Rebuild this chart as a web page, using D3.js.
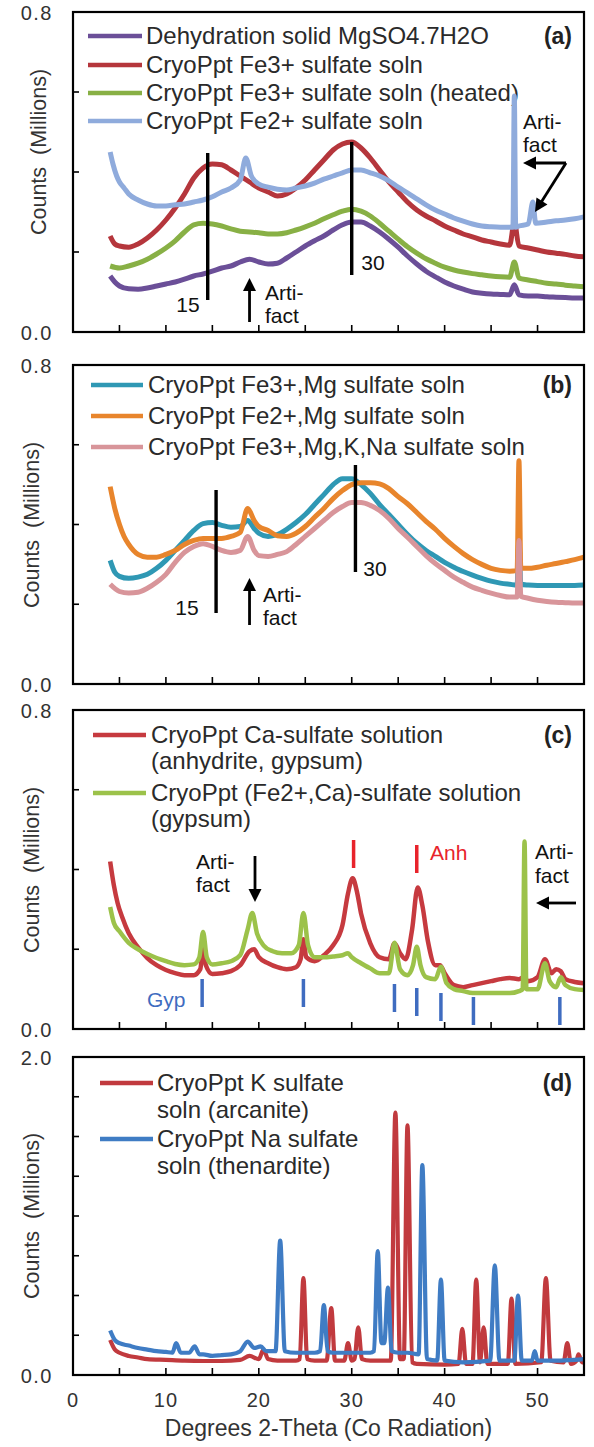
<!DOCTYPE html>
<html>
<head>
<meta charset="utf-8">
<script src="https://cdn.jsdelivr.net/npm/d3@7"></script>
<style>
  body { margin: 0; background: #fff; }
  svg { display: block; }
  text { font-family: "Liberation Sans", Arial, sans-serif; }
</style>
</head>
<body>
<svg id="chart" width="594" height="1447"></svg>
<script>
// ---- data: [degrees 2-theta, counts (millions)] ----

// panel (a)
const aDehydration = [[4,0.14],[4.5,0.125],[5,0.115],[6,0.108],[7,0.107],[8,0.11],[9,0.115],[10,0.12],[11,0.125],[12,0.132],[13,0.14],[14,0.145],[15,0.152],[16,0.16],[17,0.165],[18,0.175],[19,0.182],[20,0.175],[21,0.17],[22,0.172],[23,0.185],[24,0.2],[25,0.215],[26,0.228],[27,0.24],[28,0.255],[29,0.268],[30,0.275],[31,0.275],[32,0.265],[33,0.25],[34,0.232],[35,0.212],[36,0.19],[37,0.17],[38,0.152],[39,0.138],[40,0.125],[41,0.115],[42,0.107],[43,0.1],[44,0.097],[45,0.095],[46,0.094],[47,0.093],[47.5,0.118],[48,0.093],[49,0.09],[50,0.09],[51,0.088],[52,0.087],[53,0.086],[54,0.085],[55,0.085]];
const aFe3 = [[4,0.24],[4.5,0.22],[5,0.215],[6,0.212],[7,0.22],[8,0.235],[9,0.255],[10,0.28],[11,0.31],[12,0.345],[13,0.385],[14,0.41],[15,0.42],[16,0.418],[17,0.405],[18,0.39],[19,0.375],[20,0.36],[21,0.35],[22,0.34],[23,0.345],[24,0.36],[25,0.38],[26,0.405],[27,0.43],[28,0.455],[29,0.47],[30,0.475],[31,0.46],[32,0.435],[33,0.405],[34,0.375],[35,0.35],[36,0.325],[37,0.305],[38,0.29],[39,0.278],[40,0.265],[41,0.255],[42,0.245],[43,0.238],[44,0.23],[45,0.225],[46,0.22],[47,0.217],[47.5,0.275],[48,0.215],[49,0.21],[50,0.205],[51,0.2],[52,0.197],[53,0.194],[54,0.19],[55,0.188]];
const aFe3Heated = [[4,0.165],[5,0.16],[6,0.165],[7,0.172],[8,0.182],[9,0.195],[10,0.21],[11,0.228],[12,0.25],[13,0.268],[14,0.272],[15,0.27],[16,0.265],[17,0.258],[18,0.252],[19,0.25],[20,0.248],[21,0.245],[22,0.245],[23,0.248],[24,0.255],[25,0.263],[26,0.272],[27,0.283],[28,0.293],[29,0.302],[30,0.307],[31,0.302],[32,0.29],[33,0.272],[34,0.252],[35,0.232],[36,0.213],[37,0.197],[38,0.183],[39,0.172],[40,0.162],[41,0.155],[42,0.15],[43,0.146],[44,0.143],[45,0.14],[46,0.138],[47,0.137],[47.5,0.175],[48,0.135],[49,0.13],[50,0.126],[51,0.122],[52,0.12],[53,0.117],[54,0.115],[55,0.113]];
const aFe2 = [[4,0.45],[4.3,0.42],[4.7,0.39],[5,0.375],[5.5,0.36],[6,0.345],[7,0.33],[8,0.32],[9,0.315],[10,0.315],[11,0.318],[12,0.32],[13,0.325],[14,0.33],[15,0.338],[16,0.35],[17,0.36],[18,0.38],[18.6,0.435],[19.2,0.39],[20,0.37],[21,0.362],[22,0.357],[23,0.355],[24,0.36],[25,0.365],[26,0.372],[27,0.382],[28,0.39],[29,0.398],[30,0.405],[31,0.405],[32,0.398],[33,0.39],[34,0.378],[35,0.362],[36,0.348],[37,0.333],[38,0.318],[39,0.305],[40,0.295],[41,0.285],[42,0.277],[43,0.27],[44,0.265],[45,0.263],[46,0.262],[47,0.262],[47.35,0.262],[47.5,0.59],[47.65,0.262],[48,0.265],[49,0.27],[49.5,0.325],[49.8,0.272],[51,0.275],[52,0.278],[53,0.28],[54,0.283],[55,0.288]];

// panel (b)
const bFe3Mg = [[4,0.31],[4.5,0.28],[5,0.27],[6,0.265],[7,0.268],[8,0.275],[9,0.29],[10,0.31],[11,0.335],[12,0.36],[13,0.385],[14,0.402],[15,0.405],[16,0.398],[17,0.393],[18,0.395],[18.8,0.41],[19.5,0.39],[20,0.378],[21,0.37],[22,0.375],[23,0.388],[24,0.405],[25,0.425],[26,0.45],[27,0.475],[28,0.5],[29,0.515],[30,0.515],[31,0.5],[32,0.478],[33,0.45],[34,0.425],[35,0.4],[36,0.375],[37,0.353],[38,0.335],[39,0.32],[40,0.305],[41,0.293],[42,0.282],[43,0.273],[44,0.265],[45,0.258],[46,0.253],[47,0.25],[47.8,0.248],[48,0.37],[48.2,0.25],[49,0.248],[50,0.247],[51,0.247],[52,0.247],[53,0.247],[54,0.247],[55,0.248]];
const bFe2Mg = [[4,0.495],[4.5,0.44],[5,0.4],[5.5,0.37],[6,0.35],[7,0.325],[8,0.318],[9,0.318],[10,0.325],[11,0.335],[12,0.35],[13,0.36],[14,0.365],[15,0.365],[16,0.365],[17,0.37],[18,0.38],[18.8,0.44],[19.5,0.41],[20,0.395],[21,0.385],[22,0.372],[23,0.37],[24,0.378],[25,0.395],[26,0.418],[27,0.44],[28,0.465],[29,0.485],[30,0.5],[31,0.505],[32,0.505],[33,0.502],[34,0.49],[35,0.47],[36,0.452],[37,0.43],[38,0.408],[39,0.388],[40,0.365],[41,0.345],[42,0.327],[43,0.312],[44,0.3],[45,0.29],[46,0.285],[47,0.283],[47.8,0.285],[48,0.56],[48.2,0.29],[49,0.29],[50,0.293],[51,0.298],[52,0.302],[53,0.307],[54,0.312],[55,0.318]];
const bFe3MgKNa = [[4,0.25],[5,0.232],[6,0.228],[7,0.23],[8,0.24],[9,0.255],[10,0.275],[11,0.305],[12,0.33],[13,0.345],[14,0.352],[15,0.345],[16,0.335],[17,0.33],[18,0.335],[18.8,0.37],[19.5,0.335],[20,0.322],[21,0.32],[22,0.325],[23,0.332],[24,0.35],[25,0.37],[26,0.39],[27,0.41],[28,0.43],[29,0.445],[30,0.455],[31,0.455],[32,0.448],[33,0.435],[34,0.415],[35,0.39],[36,0.368],[37,0.345],[38,0.322],[39,0.302],[40,0.285],[41,0.268],[42,0.255],[43,0.243],[44,0.235],[45,0.228],[46,0.222],[47,0.218],[47.8,0.218],[48,0.36],[48.2,0.22],[49,0.215],[50,0.21],[51,0.207],[52,0.205],[53,0.204],[54,0.203],[55,0.203]];

// panel (c)
const cCa = [[4,0.42],[4.4,0.36],[4.8,0.316],[5.3,0.28],[6,0.24],[7,0.205],[8,0.178],[9,0.16],[10,0.148],[11,0.14],[12,0.135],[13,0.135],[13.7,0.15],[14,0.205],[14.3,0.16],[15,0.138],[16,0.14],[17,0.145],[18,0.16],[19,0.195],[19.5,0.2],[20,0.18],[21,0.165],[22,0.155],[23,0.15],[24,0.155],[24.5,0.175],[24.8,0.225],[25.1,0.18],[26,0.17],[27,0.185],[28,0.21],[29,0.26],[29.6,0.34],[30.1,0.378],[30.6,0.34],[31,0.29],[32,0.215],[33,0.18],[34,0.175],[34.6,0.215],[35.2,0.19],[35.8,0.175],[36.5,0.25],[37.1,0.355],[37.6,0.31],[38.2,0.22],[39,0.16],[39.5,0.16],[40,0.14],[41,0.11],[42,0.105],[43,0.11],[44,0.115],[45,0.12],[46,0.125],[47,0.128],[48,0.125],[48.5,0.13],[49,0.12],[50,0.13],[50.8,0.175],[51.5,0.14],[52,0.15],[52.5,0.145],[53,0.125],[54,0.118],[55,0.115]];
const cFe2Ca = [[4,0.306],[4.4,0.266],[5,0.245],[6,0.216],[7,0.2],[8,0.188],[9,0.178],[10,0.17],[11,0.163],[12,0.16],[13,0.162],[13.6,0.18],[14,0.243],[14.4,0.18],[15,0.162],[16,0.165],[17,0.17],[18,0.185],[18.8,0.25],[19.3,0.291],[19.8,0.24],[20.5,0.21],[21.5,0.195],[22.5,0.19],[23.5,0.19],[24.3,0.21],[24.8,0.291],[25.3,0.21],[26,0.18],[27,0.18],[28,0.182],[29,0.185],[29.6,0.19],[30,0.18],[31,0.165],[32,0.152],[33,0.14],[34,0.14],[34.6,0.216],[35.2,0.15],[36,0.135],[36.6,0.16],[37,0.206],[37.4,0.16],[38,0.13],[39,0.125],[39.6,0.156],[40.2,0.115],[41,0.1],[42,0.095],[43,0.09],[44,0.09],[45,0.09],[46,0.09],[47,0.09],[48,0.095],[48.4,0.1],[48.6,0.47],[48.8,0.1],[49.5,0.1],[50,0.1],[50.8,0.165],[51.3,0.12],[52,0.105],[52.5,0.13],[53,0.11],[54,0.1],[55,0.098]];

// panel (d)
const dK = [[4,0.22],[4.5,0.16],[5,0.14],[6,0.12],[7,0.11],[8,0.1],[10,0.095],[12,0.09],[14,0.088],[16,0.088],[18,0.095],[19,0.12],[20,0.1],[20.5,0.16],[21,0.1],[22,0.09],[24,0.09],[24.4,0.1],[24.8,0.61],[25.2,0.1],[26,0.09],[27.3,0.09],[27.8,0.42],[28.2,0.09],[29.2,0.09],[29.6,0.2],[30,0.09],[30.3,0.1],[30.7,0.3],[31.1,0.1],[32,0.09],[34.2,0.09],[34.7,1.65],[35.2,0.1],[35.6,0.1],[36,1.57],[36.5,0.08],[37,0.07],[40,0.065],[41.5,0.07],[41.9,0.29],[42.3,0.07],[43,0.07],[43.4,0.6],[43.8,0.08],[44.2,0.3],[44.6,0.07],[46.8,0.07],[47.2,0.48],[47.6,0.07],[50.4,0.08],[50.9,0.61],[51.4,0.09],[52.8,0.08],[53.2,0.2],[53.6,0.07],[54.2,0.09],[54.4,0.13],[54.8,0.08],[55,0.08]];
const dNa = [[4,0.28],[4.5,0.22],[5,0.2],[6,0.185],[7,0.17],[8,0.16],[9,0.15],[10,0.145],[10.7,0.14],[11.1,0.2],[11.6,0.14],[12.5,0.14],[13.1,0.18],[13.6,0.13],[14,0.13],[15,0.12],[16,0.125],[17,0.13],[18,0.15],[18.8,0.21],[19.5,0.17],[20.2,0.18],[20.8,0.15],[21.8,0.15],[22.3,0.845],[22.8,0.15],[24,0.14],[26,0.14],[26.6,0.15],[27,0.44],[27.4,0.15],[28,0.14],[30,0.14],[32,0.14],[32.4,0.15],[32.8,0.78],[33.2,0.2],[33.5,0.2],[33.9,0.55],[34.3,0.15],[35,0.14],[36,0.14],[37.2,0.13],[37.6,1.32],[38.1,0.1],[39.2,0.09],[39.6,0.6],[40,0.09],[42,0.08],[44.9,0.09],[45.4,0.69],[45.9,0.09],[47.5,0.09],[47.9,0.5],[48.3,0.09],[49.4,0.09],[49.7,0.15],[50,0.09],[52,0.09],[54,0.095],[55,0.1]];

// axis / labels
const xTicks = [5, 10, 15, 20, 25, 30, 35, 40, 45, 50];
const xTickLabels = [0, 10, 20, 30, 40, 50];
const gypPeaks = [13.9, 24.8, 34.6, 37.0, 39.6, 43.1, 52.4];
const anhPeaks = [30.2, 37.0];

const svg = d3.select('#chart');
const x = d3.scaleLinear().domain([0, 55]).range([73, 584]);

const panels = [
  { id: '(a)', top: 12, bottom: 332, max: 0.8, step: 0.2, yTitle: 152, yTitleX: 38, sw: 5,
    series: [
      { data: aDehydration, color: '#6b4f98', name: ['Dehydration solid MgSO4.7H2O'] },
      { data: aFe3, color: '#b5363c', name: ['CryoPpt Fe3+ sulfate soln'] },
      { data: aFe3Heated, color: '#88b045', name: ['CryoPpt Fe3+ sulfate soln (heated)'] },
      { data: aFe2, color: '#8fabdc', name: ['CryoPpt Fe2+ sulfate soln'] }
    ],
    legend: { x1: 88, x2: 142, tx: 146, rows: [36, 65, 93, 121] } },
  { id: '(b)', top: 365, bottom: 684, max: 0.8, step: 0.2, yTitle: 525, yTitleX: 31, sw: 5,
    series: [
      { data: bFe3Mg, color: '#2f98b4', name: ['CryoPpt Fe3+,Mg sulfate soln'] },
      { data: bFe2Mg, color: '#e8852c', name: ['CryoPpt Fe2+,Mg sulfate soln'] },
      { data: bFe3MgKNa, color: '#d8959a', name: ['CryoPpt Fe3+,Mg,K,Na sulfate soln'] }
    ],
    legend: { x1: 91, x2: 143, tx: 148, rows: [385, 416, 447] } },
  { id: '(c)', top: 710, bottom: 1029, max: 0.8, step: 0.2, yTitle: 870, yTitleX: 31, sw: 4.5,
    series: [
      { data: cCa, color: '#c63a3f', name: ['CryoPpt Ca-sulfate solution', '(anhydrite, gypsum)'] },
      { data: cFe2Ca, color: '#9cc24a', name: ['CryoPpt (Fe2+,Ca)-sulfate solution', '(gypsum)'] }
    ],
    legend: { x1: 93, x2: 146, tx: 151, rows: [735, 793], lead: 26 } },
  { id: '(d)', top: 1057, bottom: 1375, max: 2.0, step: 0.25, yTitle: 1216, yTitleX: 31, sw: 4.2,
    series: [
      { data: dK, color: '#c13a3e', name: ['CryoPpt K sulfate', 'soln (arcanite)'] },
      { data: dNa, color: '#3f7cc4', name: ['CryoPpt Na sulfate', 'soln (thenardite)'] }
    ],
    legend: { x1: 100, x2: 153, tx: 157, rows: [1083, 1139], lead: 27 } }
];

function txt(g, px, py, s, o = {}) {
  return g.append('text')
    .attr('x', px).attr('y', py)
    .attr('dy', '0.35em')
    .attr('font-size', o.size || 21)
    .attr('font-weight', o.weight || 'normal')
    .attr('fill', o.fill || '#222')
    .attr('text-anchor', o.anchor || 'start')
    .attr('letter-spacing', o.ls || 0)
    .text(s);
}

function arrowHead(g, tipX, tipY, ang) {
  // ang = direction the arrow points, radians
  const L = 13, W = 6.5;
  const bx = tipX - L * Math.cos(ang), by = tipY - L * Math.sin(ang);
  const nx = -Math.sin(ang) * W, ny = Math.cos(ang) * W;
  g.append('path')
    .attr('d', `M${tipX},${tipY}L${bx + nx},${by + ny}L${bx - nx},${by - ny}Z`)
    .attr('fill', '#000');
}

function arrow(g, x1, y1, x2, y2) {
  const ang = Math.atan2(y2 - y1, x2 - x1);
  g.append('line')
    .attr('x1', x1).attr('y1', y1)
    .attr('x2', x2 - 8 * Math.cos(ang)).attr('y2', y2 - 8 * Math.sin(ang))
    .attr('stroke', '#000').attr('stroke-width', 2.8);
  arrowHead(g, x2, y2, ang);
}

const scales = [];

panels.forEach((p, i) => {
  const y = d3.scaleLinear().domain([0, p.max]).range([p.bottom, p.top]);
  scales.push(y);
  const g = svg.append('g');

  g.append('clipPath').attr('id', 'clip' + i)
    .append('rect').attr('x', x(0)).attr('y', p.top)
    .attr('width', x(55) - x(0)).attr('height', p.bottom - p.top);

  // legend
  let lead = p.legend.lead || 0;
  p.series.forEach((s, k) => {
    const ry = p.legend.rows[k];
    g.append('line')
      .attr('x1', p.legend.x1).attr('x2', p.legend.x2)
      .attr('y1', ry).attr('y2', ry)
      .attr('stroke', s.color).attr('stroke-width', 4.5);
    s.name.forEach((t, j) => txt(g, p.legend.tx, ry + j * lead, t, { size: 24, fill: '#2a2a2a' }));
  });

  // series
  const line = d3.line()
    .x(d => x(d[0]))
    .y(d => y(d[1]))
    .curve(d3.curveMonotoneX);
  const lg = g.append('g').attr('clip-path', `url(#clip${i})`);
  p.series.forEach(s => {
    lg.append('path')
      .attr('d', line(s.data))
      .attr('fill', 'none')
      .attr('stroke', s.color)
      .attr('stroke-width', p.sw)
      .attr('stroke-linejoin', 'round');
  });

  // frame
  g.append('rect')
    .attr('x', x(0)).attr('y', p.top)
    .attr('width', x(55) - x(0)).attr('height', p.bottom - p.top)
    .attr('fill', 'none').attr('stroke', '#000').attr('stroke-width', 2.2);

  // ticks (inward)
  xTicks.forEach(t => {
    g.append('line')
      .attr('x1', x(t)).attr('x2', x(t))
      .attr('y1', p.bottom).attr('y2', p.bottom - 7)
      .attr('stroke', '#000').attr('stroke-width', 1.6);
  });
  d3.range(p.step, p.max - 1e-9, p.step).forEach(t => {
    g.append('line')
      .attr('x1', x(0)).attr('x2', x(0) + 6)
      .attr('y1', y(t)).attr('y2', y(t))
      .attr('stroke', '#000').attr('stroke-width', 1.6);
  });

  // y labels
  txt(g, 53, p.top + 1, d3.format('.1f')(p.max), { size: 20, anchor: 'end', fill: '#333', ls: 1.5 });
  txt(g, 53, p.bottom + 1, '0.0', { size: 20, anchor: 'end', fill: '#333', ls: 1.5 });

  // y title
  g.append('text')
    .attr('transform', `translate(${p.yTitleX},${p.yTitle}) rotate(-90)`)
    .attr('text-anchor', 'middle').attr('dy', '0.35em')
    .attr('font-size', 21.5).attr('fill', '#333')
    .style('white-space', 'pre')
    .text('Counts  (Millions)');

  // panel letter
  txt(g, 572, p.legend.rows[0], p.id, { size: 23, weight: 'bold', anchor: 'end', fill: '#222' });
});

// x axis labels on bottom panel
const gx = svg.append('g');
xTickLabels.forEach(t => txt(gx, x(t), 1400, String(t), { size: 20, anchor: 'middle', fill: '#333', ls: 1 }));
txt(gx, (x(0) + x(55)) / 2, 1428, 'Degrees 2-Theta (Co Radiation)', { size: 23, anchor: 'middle', fill: '#333' });

// ---- annotations ----
const ann = svg.append('g');

function vbar(g, deg, y1, y2, color, w) {
  g.append('line')
    .attr('x1', x(deg)).attr('x2', x(deg))
    .attr('y1', y1).attr('y2', y2)
    .attr('stroke', color).attr('stroke-width', w);
}

// (a)
vbar(ann, 14.5, 153, 300, '#000', 3.4);
vbar(ann, 30, 142, 275, '#000', 3.4);
txt(ann, 188, 305, '15', { size: 21, anchor: 'middle', fill: '#111' });
txt(ann, 373, 263, '30', { size: 21, anchor: 'middle', fill: '#111' });
arrow(ann, x(19), 322, x(19), 278);
txt(ann, 265, 293, 'Arti-', { size: 21, fill: '#111' });
txt(ann, 265, 316, 'fact', { size: 21, fill: '#111' });
txt(ann, 523, 122, 'Arti-', { size: 21, fill: '#111' });
txt(ann, 523, 145, 'fact', { size: 21, fill: '#111' });
ann.append('line').attr('x1', 566).attr('y1', 163).attr('x2', 532).attr('y2', 163)
  .attr('stroke', '#000').attr('stroke-width', 2.8);
arrowHead(ann, 523, 163, Math.PI);
arrow(ann, 566, 163, 535, 212);

// (b)
vbar(ann, 15.4, 490, 613, '#000', 3.4);
vbar(ann, 30.4, 465, 572, '#000', 3.4);
txt(ann, 187, 608, '15', { size: 21, anchor: 'middle', fill: '#111' });
txt(ann, 375, 569, '30', { size: 21, anchor: 'middle', fill: '#111' });
arrow(ann, x(19), 625, x(19), 578);
txt(ann, 263, 595, 'Arti-', { size: 21, fill: '#111' });
txt(ann, 263, 618, 'fact', { size: 21, fill: '#111' });

// (c)
anhPeaks.forEach((d, k) => vbar(ann, d, 840 + k * 5, 868 + k * 5, '#e8232b', 3.5));
txt(ann, 430, 853, 'Anh', { size: 21, fill: '#e8232b' });
const gypTop = [979, 979, 984, 988, 993, 997, 997];
gypPeaks.forEach((d, k) => vbar(ann, d, gypTop[k], gypTop[k] + 28, '#3f6cc0', 3.5));
txt(ann, 147, 1000, 'Gyp', { size: 21, fill: '#3f6cc0' });
txt(ann, 196, 862, 'Arti-', { size: 21, fill: '#111' });
txt(ann, 196, 885, 'fact', { size: 21, fill: '#111' });
arrow(ann, 255, 856, 255, 902);
txt(ann, 535, 852, 'Arti-', { size: 21, fill: '#111' });
txt(ann, 535, 876, 'fact', { size: 21, fill: '#111' });
arrow(ann, 576, 903, 536, 903);
</script>
</body>
</html>
